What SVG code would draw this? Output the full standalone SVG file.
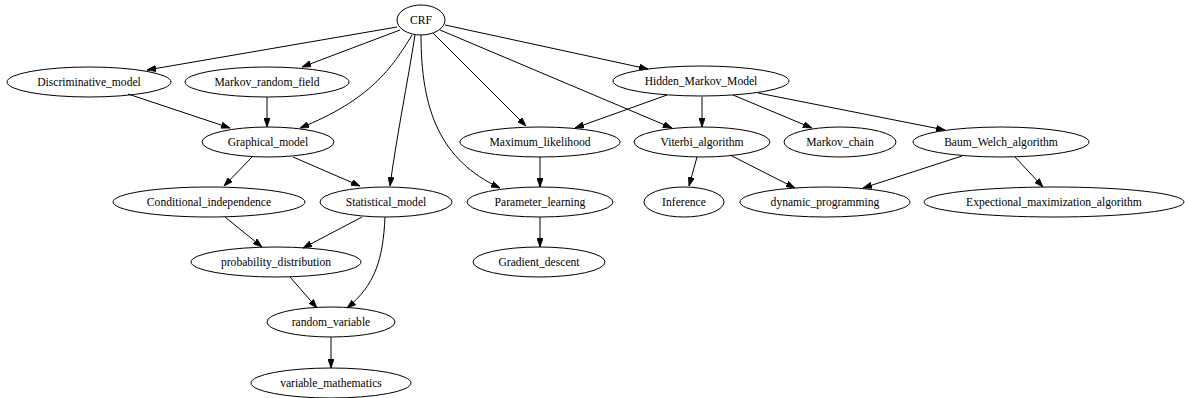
<svg xmlns="http://www.w3.org/2000/svg" width="1185" height="398" viewBox="0 0 1185 398">
<defs>
<style>
.n ellipse{fill:none;stroke:#000;stroke-width:1}
.n text{font-family:"Liberation Serif","Times New Roman",serif;font-size:11.6px;fill:#000;text-anchor:middle;dominant-baseline:central}
#edges path{fill:none;stroke:#000;stroke-width:1;marker-end:url(#a)}
</style>
<marker id="a" viewBox="0 0 10 7" refX="10" refY="3.5" markerWidth="9" markerHeight="6.5" orient="auto" markerUnits="userSpaceOnUse"><path d="M0,0L10,3.5L0,7z" fill="#000" stroke="#000" stroke-width="0.8"/></marker>
</defs>
<rect width="1185" height="398" fill="#fff"/>
<g id="edges">
<path d="M397,27L147,70"/>
<path d="M400,30L302,67"/>
<path d="M412,35C392,68 370,100 300,128"/>
<path d="M415,35C408,80 396,140 390,186"/>
<path d="M421,35C421,110 440,160 500,188"/>
<path d="M433,33L526,126"/>
<path d="M440,30L672,128"/>
<path d="M445,25L648,69"/>
<path d="M128,94L230,128"/>
<path d="M267,97L267,127"/>
<path d="M252,157L224,186"/>
<path d="M293,157L360,186"/>
<path d="M667,95L575,128"/>
<path d="M702,97L702,127"/>
<path d="M733,95L812,128"/>
<path d="M758,93L945,130"/>
<path d="M540,157L540,187"/>
<path d="M540,217L540,247"/>
<path d="M697,157L689,186"/>
<path d="M730,155L795,188"/>
<path d="M962,156L863,188"/>
<path d="M1015,157L1043,187"/>
<path d="M225,217L262,247"/>
<path d="M362,217L303,248"/>
<path d="M385,217C383,260 375,285 347,308"/>
<path d="M290,277L317,308"/>
<path d="M331,337L331,368"/>
</g>
<g id="CRF" class="n"><ellipse cx="421" cy="20" rx="24" ry="15"/><text x="421" y="20">CRF</text></g>
<g id="Discriminative_model" class="n"><ellipse cx="89" cy="82" rx="82" ry="15"/><text x="89" y="82">Discriminative_model</text></g>
<g id="Markov_random_field" class="n"><ellipse cx="267" cy="82" rx="82" ry="15"/><text x="267" y="82">Markov_random_field</text></g>
<g id="Hidden_Markov_Model" class="n"><ellipse cx="701" cy="81" rx="88" ry="15"/><text x="701" y="81">Hidden_Markov_Model</text></g>
<g id="Graphical_model" class="n"><ellipse cx="268" cy="142" rx="66" ry="15"/><text x="268" y="142">Graphical_model</text></g>
<g id="Maximum_likelihood" class="n"><ellipse cx="540" cy="142" rx="80" ry="15"/><text x="540" y="142">Maximum_likelihood</text></g>
<g id="Viterbi_algorithm" class="n"><ellipse cx="702" cy="142" rx="68" ry="15"/><text x="702" y="142">Viterbi_algorithm</text></g>
<g id="Markov_chain" class="n"><ellipse cx="840" cy="142" rx="56" ry="15"/><text x="840" y="142">Markov_chain</text></g>
<g id="Baum_Welch_algorithm" class="n"><ellipse cx="1001" cy="142" rx="88" ry="15"/><text x="1001" y="142">Baum_Welch_algorithm</text></g>
<g id="Conditional_independence" class="n"><ellipse cx="209" cy="202" rx="96" ry="15"/><text x="209" y="202">Conditional_independence</text></g>
<g id="Statistical_model" class="n"><ellipse cx="386" cy="202" rx="66" ry="15"/><text x="386" y="202">Statistical_model</text></g>
<g id="Parameter_learning" class="n"><ellipse cx="540" cy="202" rx="73" ry="15"/><text x="540" y="202">Parameter_learning</text></g>
<g id="Inference" class="n"><ellipse cx="684" cy="202" rx="40" ry="15"/><text x="684" y="202">Inference</text></g>
<g id="dynamic_programming" class="n"><ellipse cx="825" cy="202" rx="85" ry="15"/><text x="825" y="202">dynamic_programming</text></g>
<g id="Expectional_maximization_algorithm" class="n"><ellipse cx="1054" cy="202" rx="130" ry="15"/><text x="1054" y="202">Expectional_maximization_algorithm</text></g>
<g id="probability_distribution" class="n"><ellipse cx="276" cy="262" rx="85" ry="15"/><text x="276" y="262">probability_distribution</text></g>
<g id="Gradient_descent" class="n"><ellipse cx="539" cy="262" rx="66" ry="15"/><text x="539" y="262">Gradient_descent</text></g>
<g id="random_variable" class="n"><ellipse cx="331" cy="322" rx="64" ry="15"/><text x="331" y="322">random_variable</text></g>
<g id="variable_mathematics" class="n"><ellipse cx="331" cy="383" rx="80" ry="15"/><text x="331" y="383">variable_mathematics</text></g>
</svg>
